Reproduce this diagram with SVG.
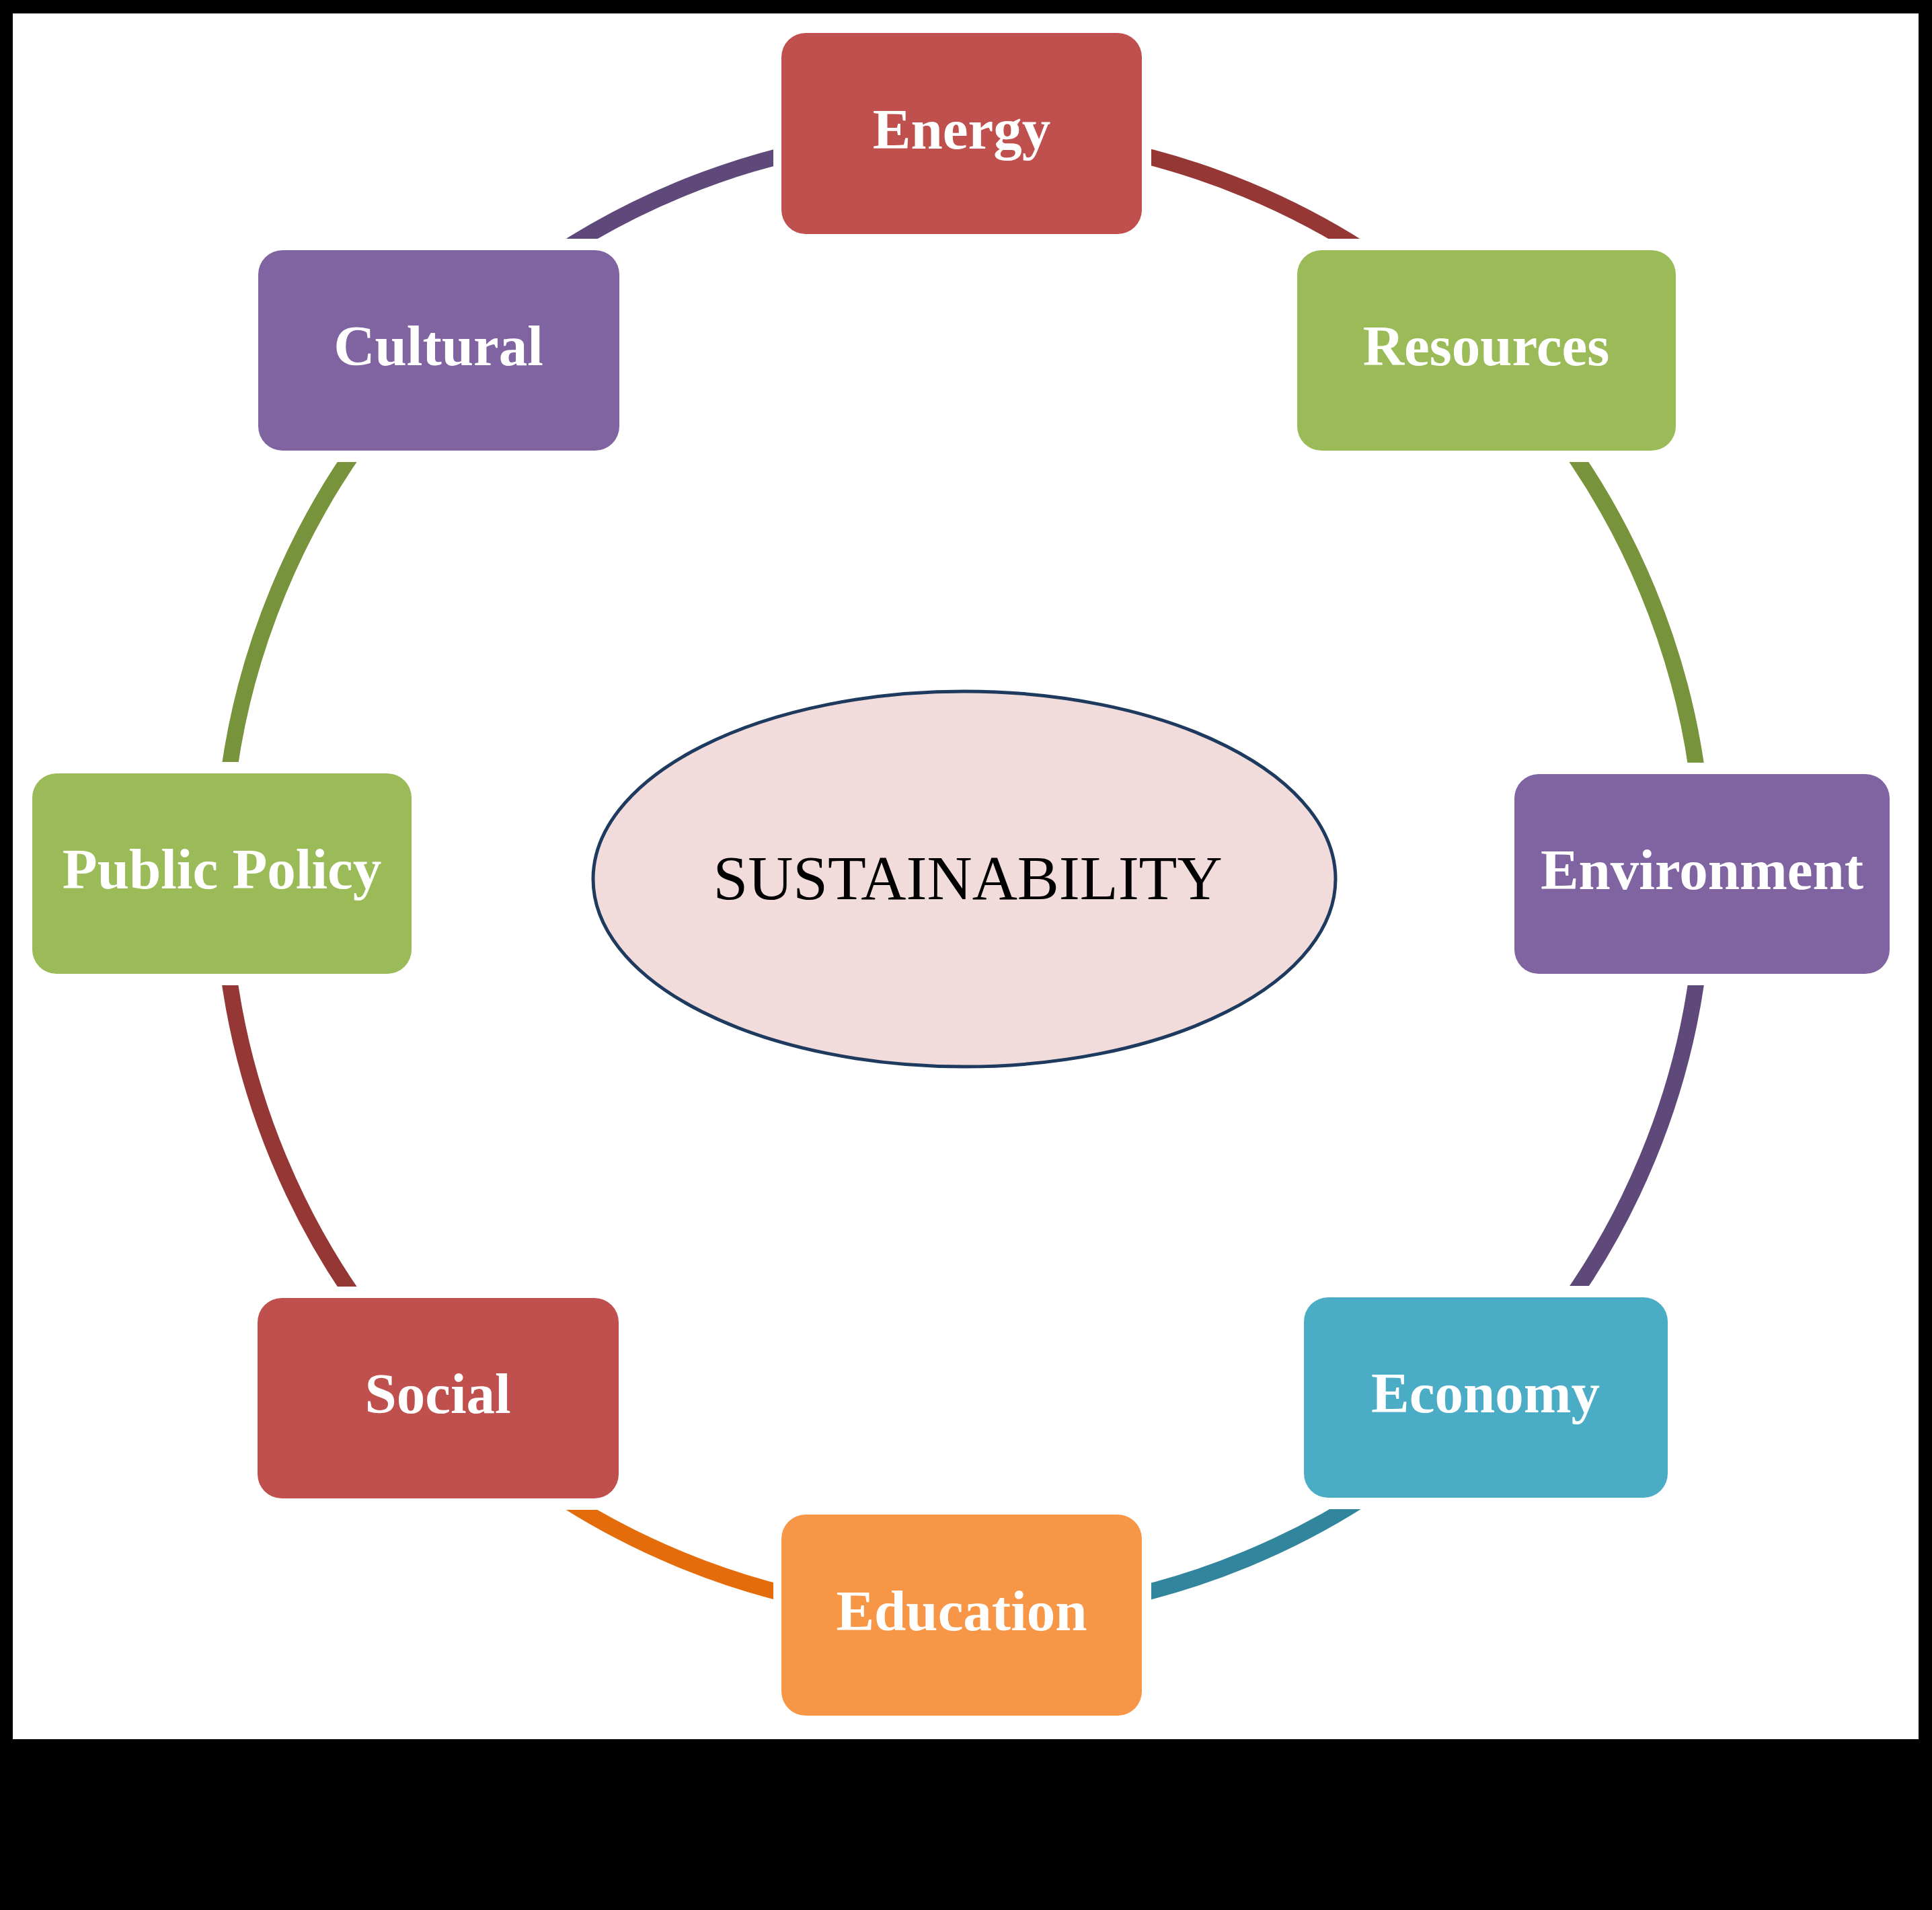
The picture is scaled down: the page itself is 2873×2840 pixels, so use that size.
<svg xmlns="http://www.w3.org/2000/svg" width="2873" height="2840" viewBox="0 0 2873 2840">
  <style>
    .box { stroke: none; }
    .lbl { font-family: "Liberation Serif", "Times New Roman", serif; font-weight: bold; font-size: 85px; fill: #FFFFFF; text-anchor: middle; }
    .arc { fill: none; stroke-width: 24; stroke-linecap: butt; }
    .center-lbl { font-family: "Liberation Serif", "Times New Roman", serif; font-size: 93px; fill: #000000; text-anchor: middle; }
  </style>
  <defs>
    <mask id="gaps" maskUnits="userSpaceOnUse" x="0" y="0" width="2873" height="2840">
      <rect x="0" y="0" width="2873" height="2840" fill="#FFFFFF"/>
      <rect x="1150" y="32" width="562" height="333" fill="#000000"/>
      <rect x="1917" y="355" width="587" height="332" fill="#000000"/>
      <rect x="2240" y="1134" width="582" height="331" fill="#000000"/>
      <rect x="1927" y="1912" width="565" height="332" fill="#000000"/>
      <rect x="1150" y="2235" width="562" height="333" fill="#000000"/>
      <rect x="371" y="1913" width="561" height="332" fill="#000000"/>
      <rect x="36" y="1133" width="588" height="332" fill="#000000"/>
      <rect x="372" y="355" width="561" height="332" fill="#000000"/>
    </mask>
  </defs>

  <rect x="0" y="0" width="2873" height="2840" fill="#000000"/>
  <rect x="19" y="20" width="2834" height="2566" fill="#FFFFFF"/>

  <g id="connectors" mask="url(#gaps)">
    <path class="arc" stroke="#953735" d="M1432 198 A1102 1102 0 0 1 2211.2 520.8"/>
    <path class="arc" stroke="#77933C" d="M2211.2 520.8 A1102 1102 0 0 1 2534 1300"/>
    <path class="arc" stroke="#5F497A" d="M2534 1300 A1102 1102 0 0 1 2211.2 2079.2"/>
    <path class="arc" stroke="#31859C" d="M2211.2 2079.2 A1102 1102 0 0 1 1432 2402"/>
    <path class="arc" stroke="#E46C0A" d="M1432 2402 A1102 1102 0 0 1 652.8 2079.2"/>
    <path class="arc" stroke="#953735" d="M652.8 2079.2 A1102 1102 0 0 1 330 1300"/>
    <path class="arc" stroke="#77933C" d="M330 1300 A1102 1102 0 0 1 652.8 520.8"/>
    <path class="arc" stroke="#5F497A" d="M652.8 520.8 A1102 1102 0 0 1 1432 198"/>
  </g>

  <g id="sustainability">
    <ellipse cx="1434" cy="1307" rx="552" ry="279" fill="#F2DCDB" stroke="#1F3A5F" stroke-width="5"/>
    <text class="center-lbl" x="1439" y="1337">SUSTAINABILITY</text>
  </g>

  <g id="energy">
    <rect class="box" x="1162" y="49" width="536" height="299" rx="36" ry="36" fill="#C0504D"/>
    <text class="lbl" x="1430" y="221">Energy</text>
  </g>
  <g id="resources">
    <rect class="box" x="1929" y="372" width="563" height="298" rx="36" ry="36" fill="#9BBB59"/>
    <text class="lbl" x="2210" y="543">Resources</text>
  </g>
  <g id="environment">
    <rect class="box" x="2252" y="1151" width="558" height="297" rx="36" ry="36" fill="#8064A2"/>
    <text class="lbl" x="2531" y="1322">Environment</text>
  </g>
  <g id="economy">
    <rect class="box" x="1939" y="1929" width="541" height="298" rx="36" ry="36" fill="#4BACC6"/>
    <text class="lbl" x="2209" y="2100">Economy</text>
  </g>
  <g id="education">
    <rect class="box" x="1162" y="2252" width="536" height="299" rx="36" ry="36" fill="#F79646"/>
    <text class="lbl" x="1430" y="2424">Education</text>
  </g>
  <g id="social">
    <rect class="box" x="383" y="1930" width="537" height="298" rx="36" ry="36" fill="#C0504D"/>
    <text class="lbl" x="651" y="2101">Social</text>
  </g>
  <g id="public-policy">
    <rect class="box" x="48" y="1150" width="564" height="298" rx="36" ry="36" fill="#9BBB59"/>
    <text class="lbl" x="330" y="1321">Public Policy</text>
  </g>
  <g id="cultural">
    <rect class="box" x="384" y="372" width="537" height="298" rx="36" ry="36" fill="#8064A2"/>
    <text class="lbl" x="652" y="543">Cultural</text>
  </g>
</svg>
